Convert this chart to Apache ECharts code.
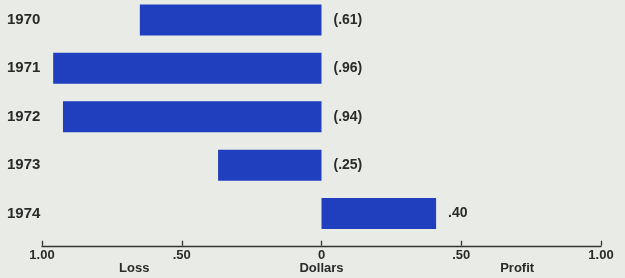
<!DOCTYPE html>
<html lang="en">
<head>
    <meta charset="UTF-8">
    <title>Loss / Profit per share</title>
    <style>
        html, body { margin: 0; padding: 0; background: #e9ece6; }
        .chart { width: 625px; height: 278px; }
    </style>
    <script src="https://cdn.jsdelivr.net/npm/echarts@6/dist/echarts.min.js"></script>
</head>
<body>
    <div class="chart"></div>
    <script>
        // years, top to bottom
        var years = ['1970', '1971', '1972', '1973', '1974'];

        // bar lengths as drawn (negative = loss)
        var values = [-0.65, -0.96, -0.925, -0.37, 0.41];

        // printed value labels
        var valueLabels = ['(.61)', '(.96)', '(.94)', '(.25)', '.40'];

        // x axis tick labels
        var tickValues = [-1, -0.5, 0, 0.5, 1];
        var tickLabels = ['1.00', '.50', '0', '.50', '1.00'];

        // words under the axis
        var axisWords = ['Loss', 'Dollars', 'Profit'];
        var axisWordPos = [-0.67, 0, 0.70];

        var textColor = '#2a2a2a';
        var font = 'Liberation Sans';

        var option = {
            backgroundColor: '#e9ece6',
            textStyle: { fontFamily: font },
            grid: { left: 42, right: 24, top: -4.25, bottom: 40.25, outerBoundsMode: 'none', containLabel: false },
            xAxis: {
                type: 'value',
                min: -1,
                max: 1,
                interval: 0.5,
                offset: 8,
                splitLine: { show: false },
                axisLine: { show: true, lineStyle: { color: '#333', width: 1.3 } },
                axisTick: { show: true, inside: true, length: 5, lineStyle: { color: '#333', width: 1.3 } },
                axisLabel: {
                    margin: 3,
                    color: textColor,
                    fontSize: 13,
                    fontWeight: 'bold',
                    formatter: function (v) {
                        var i = tickValues.indexOf(v);
                        return i >= 0 ? tickLabels[i] : '';
                    }
                }
            },
            yAxis: {
                type: 'category',
                inverse: true,
                data: years,
                axisLine: { show: false },
                axisTick: { show: false },
                axisLabel: {
                    align: 'left',
                    margin: 35,
                    color: textColor,
                    fontSize: 15,
                    fontWeight: 'bold'
                }
            },
            series: [{
                type: 'bar',
                data: values,
                barWidth: 31,
                itemStyle: { color: '#1f3fbf' },
                label: {
                    show: true,
                    position: 'right',
                    distance: 12,
                    color: textColor,
                    fontSize: 14,
                    fontWeight: 'bold',
                    formatter: function (p) { return valueLabels[p.dataIndex]; }
                }
            }]
        };

        var chart = echarts.init(document.querySelector('.chart'));
        chart.setOption(option);

        // Loss / Dollars / Profit words, placed through the x scale
        var words = axisWords.map(function (w, i) {
            var px = chart.convertToPixel({ xAxisIndex: 0 }, axisWordPos[i]);
            return {
                type: 'text',
                x: px,
                y: 262,
                style: {
                    text: w,
                    fill: textColor,
                    font: 'bold 13px "Liberation Sans"',
                    textAlign: 'center',
                    textVerticalAlign: 'top'
                }
            };
        });
        chart.setOption({ graphic: words });
    </script>
</body>
</html>
